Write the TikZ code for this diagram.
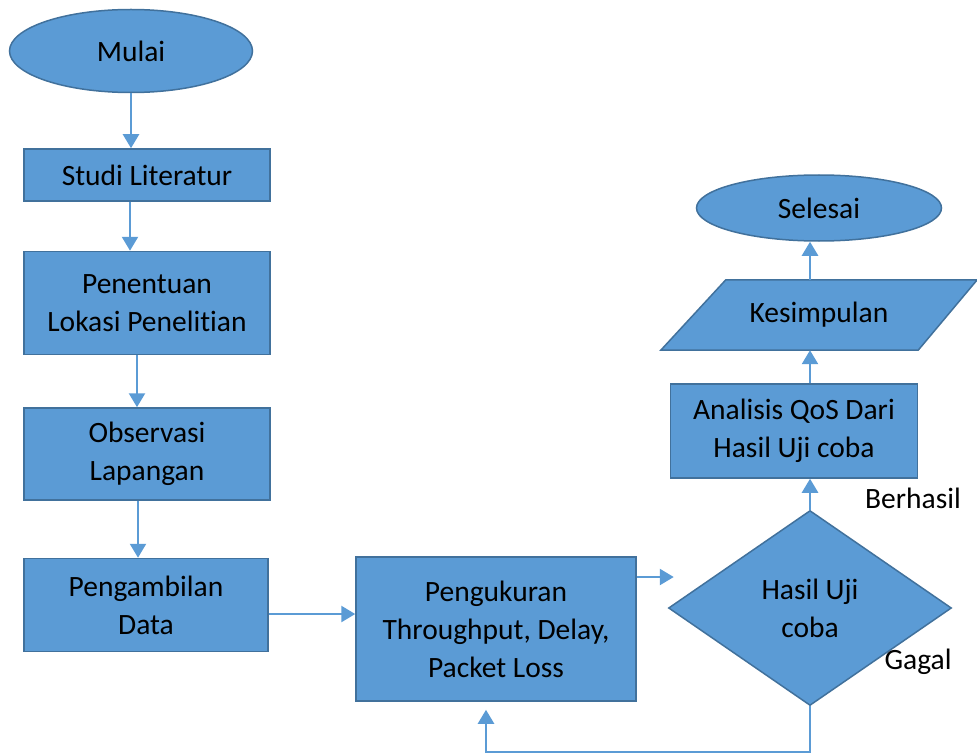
\documentclass[tikz,border=0pt]{standalone}
\usepackage{fontspec}
\setmainfont{Carlito}[Ligatures={NoCommon,NoContextual}, Contextuals=NoAlternate]
\usetikzlibrary{shapes.geometric,arrows.meta,backgrounds}
\definecolor{boxfill}{HTML}{5B9BD5}
\definecolor{boxline}{HTML}{41719C}
\definecolor{lineblue}{HTML}{5B9BD5}
\begin{document}
\begin{tikzpicture}[x=1pt, y=-1pt, every node/.style={font=\fontsize{29.5}{38}\selectfont},
  proc/.style={draw=boxline, fill=boxfill, line width=1.5pt, align=center, inner sep=0pt},
  flow/.style={draw=lineblue, line width=2.5pt, -{Triangle[width=16pt,length=14pt]}}]
\useasboundingbox (0,0) rectangle (977,754);
\node[proc, ellipse, minimum width=243pt, minimum height=83pt] (mulai) at (131,51) {Mulai};
\node[proc, minimum width=246pt, minimum height=52pt] (studi) at (147,175) {Studi Literatur};
\node[proc, minimum width=246pt, minimum height=103pt] (lokasi) at (147,303) {Penentuan\\Lokasi Penelitian};
\node[proc, minimum width=246pt, minimum height=92pt] (observasi) at (147,454) {Observasi\\Lapangan};
\node[proc, minimum width=244pt, minimum height=93pt] (ambil) at (146,605) {Pengambilan\\Data};
\node[proc, minimum width=280pt, minimum height=144pt] (ukur) at (496,629) {Pengukuran\\Throughput, Delay,\\Packet Loss};
\node[proc, diamond, minimum width=283pt, minimum height=195pt, aspect=1.45] (hasil) at (810,608) {Hasil Uji\\coba};
\node[proc, minimum width=247pt, minimum height=94pt] (analisis) at (794,431) {Analisis QoS Dari\\Hasil Uji coba};
\node[align=center, minimum width=316pt, minimum height=70pt] (simpul) at (819,315) {Kesimpulan};
\begin{scope}[on background layer]
\draw[proc] (simpul.south west) -- ([xshift=-59pt]simpul.south east) -- (simpul.north east)
  -- ([xshift=65pt]simpul.north west) -- cycle;
\end{scope}
\node[proc, ellipse, minimum width=245pt, minimum height=66pt] (selesai) at (819,208) {Selesai};
\node (berhasil) at (913,498) {Berhasil};
\node (gagal) at (918,662) {Gagal};
\coordinate (balik) at (486,752);
\draw[flow] (mulai.south) -- (mulai.south |- studi.north);
\draw[flow] ([xshift=-17pt]studi.south) -- ([xshift=-17pt]studi.south |- lokasi.north);
\draw[flow] ([xshift=-10pt]lokasi.south) -- ([xshift=-10pt]lokasi.south |- observasi.north);
\draw[flow] ([xshift=-9pt]observasi.south) -- ([xshift=-9pt]observasi.south |- ambil.north);
\draw[flow] ([yshift=-9pt]ambil.east) -- ([yshift=-9pt]ambil.east -| ukur.west);
\draw[flow, shorten >=-6pt] ([yshift=52pt]ukur.east) -- ([yshift=52pt]ukur.east -| hasil.west);
\draw[flow] (hasil.north) -- (hasil.north |- analisis.south);
\draw[flow] (hasil.north |- analisis.north) -- (hasil.north |- simpul.south);
\draw[flow] (hasil.north |- simpul.north) -- (hasil.north |- selesai.south);
\draw[flow, shorten >=8pt] (hasil.south) |- (balik) -- (balik |- ukur.south);
\end{tikzpicture}
\end{document}
